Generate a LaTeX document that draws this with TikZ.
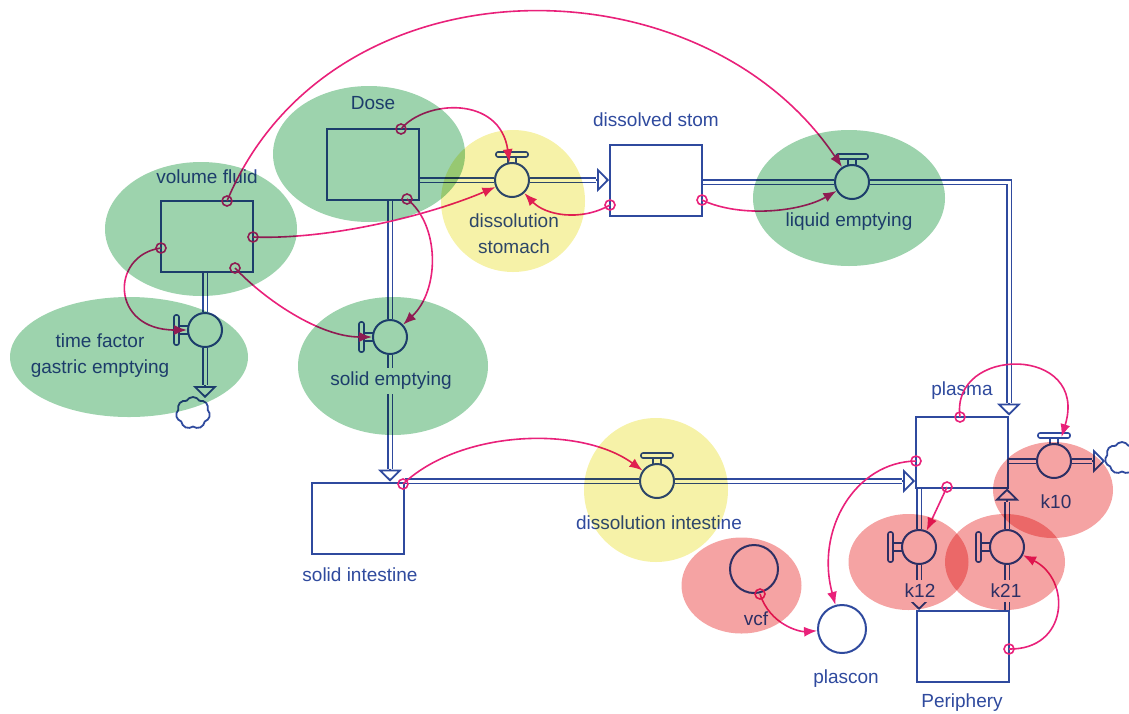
\documentclass[tikz,border=0pt]{standalone}
\usepackage{fontspec}
\setmainfont{Liberation Sans}
\usepackage{xcolor}
\usetikzlibrary{arrows.meta}
\usetikzlibrary{shapes.symbols}
\usetikzlibrary{calc}

\definecolor{sdblue}{RGB}{47,74,158}
\definecolor{linkpink}{RGB}{233,33,122}
\definecolor{grpgreen}{RGB}{157,211,173}
\definecolor{grpyellow}{RGB}{246,242,168}
\definecolor{grpred}{RGB}{245,163,163}

\begin{document}
\begin{tikzpicture}[x=1pt,y=-1pt]
\tikzset{>={Latex[width=10pt,length=13pt]}}
\tikzstyle{stock}=[rectangle,draw=sdblue,line width=2pt,minimum width=92pt,minimum height=71pt,inner sep=0pt]
\tikzstyle{valve}=[circle,draw=sdblue,line width=2pt,minimum size=34pt,inner sep=0pt]
\tikzstyle{aux}=[circle,draw=sdblue,line width=2pt,minimum size=48pt,inner sep=0pt]
\tikzstyle{pipe}=[draw=sdblue,line width=1.8pt,double=white,double distance=3pt]
\tikzstyle{flowhead}=[draw=sdblue,line width=1.8pt,-{Triangle[open,length=12pt,width=24pt]}]
\tikzstyle{sink}=[cloud,draw=sdblue,fill=white,line width=1.8pt,cloud puffs=7,cloud puff arc=120,aspect=1,minimum width=34pt,minimum height=32pt,inner sep=0pt]
\tikzstyle{tap}=[circle,draw=linkpink,line width=1.6pt,minimum size=10pt,inner sep=0pt]
\tikzstyle{infolink}=[->,draw=linkpink,line width=1.6pt]
\tikzstyle{lbl}=[fill=white,text=sdblue,inner xsep=2pt,inner ysep=4pt,align=center,font=\fontsize{19}{26}\selectfont]
\tikzset{
  handletop/.pic={
    \draw[sdblue,line width=1.6pt,rounded corners=2pt] (-16,-28) rectangle (16,-23);
    \draw[sdblue,line width=1.6pt] (-4,-23) -- (-4,-16.5) (4,-23) -- (4,-16.5);
  },
  handleleft/.pic={
    \draw[sdblue,line width=1.6pt,rounded corners=2pt] (-31,-15) rectangle (-26,15);
    \draw[sdblue,line width=1.6pt] (-26,-4) -- (-16.5,-4) (-26,4) -- (-16.5,4);
  }
}

\useasboundingbox (0,0) rectangle (1129,713);

% stocks
\node[stock] (volFluid) at (207,236.5) {};
\node[stock] (dose) at (372.5,164) {};
\node[stock] (dissStom) at (656,180.5) {};
\node[stock] (plasma) at (962,452) {};
\node[stock] (solidInt) at (358,518) {};
\node[stock] (periphery) at (963,646.5) {};

% flows
\node[valve] (vGastric) at (205,330) {};
\node[valve] (vSolidEmpt) at (390,337) {};
\node[valve] (vDissStom) at (512,180) {};
\node[valve] (vLiquid) at (852,182) {};
\node[valve] (vDissInt) at (657,481) {};
\node[valve] (vKten) at (1054,461) {};
\node[valve] (vKtwelve) at (919,547) {};
\node[valve] (vKtwoone) at (1007,547) {};
\pic at (vDissStom) {handletop};
\pic at (vLiquid) {handletop};
\pic at (vDissInt) {handletop};
\pic at (vKten) {handletop};
\pic at (vGastric) {handleleft};
\pic at (vSolidEmpt) {handleleft};
\pic at (vKtwelve) {handleleft};
\pic at (vKtwoone) {handleleft};

% auxiliaries
\node[aux] (vcf) at (754,569) {};
\node[aux] (plascon) at (842,629) {};

% clouds
\coordinate (sinkA) at (205,398);
\coordinate (sinkB) at (1105,461);
\node[sink] (cloudA) at (193,413) {};
\node[sink] (cloudB) at (1122,458) {};

% pipes
\draw[pipe] (vGastric |- volFluid.south) -- (vGastric.north);
\draw[pipe] (vGastric.south) -- ($(sinkA)+(0,-13)$);
\draw[flowhead] ($(sinkA)+(0,-13)$) -- (sinkA);

\coordinate (inSolid) at (vSolidEmpt |- solidInt.north);
\draw[pipe] (vSolidEmpt |- dose.south) -- (vSolidEmpt.north);
\draw[pipe] (vSolidEmpt.south) -- ($(inSolid)+(0,-13)$);
\draw[flowhead] ($(inSolid)+(0,-13)$) -- (inSolid);

\coordinate (inDiss) at (dissStom.west |- vDissStom);
\draw[pipe] (dose.east |- vDissStom) -- (vDissStom.west);
\draw[pipe] (vDissStom.east) -- ($(inDiss)+(-13,0)$);
\draw[flowhead] ($(inDiss)+(-13,0)$) -- (inDiss);

\coordinate (inPlasTop) at (plasma.north east);
\draw[pipe] (dissStom.east |- vLiquid) -- (vLiquid.west);
\draw[pipe] (vLiquid.east) -- (inPlasTop |- vLiquid) -- ($(inPlasTop)+(0,-13)$);
\draw[flowhead] ($(inPlasTop)+(0,-13)$) -- (inPlasTop);

\coordinate (inPlasLeft) at (plasma.west |- vDissInt);
\draw[pipe] (solidInt.east |- vDissInt) -- (vDissInt.west);
\draw[pipe] (vDissInt.east) -- ($(inPlasLeft)+(-13,0)$);
\draw[flowhead] ($(inPlasLeft)+(-13,0)$) -- (inPlasLeft);

\draw[pipe] (plasma.east |- vKten) -- (vKten.west);
\draw[pipe] (vKten.east) -- ($(sinkB)+(-13,0)$);
\draw[flowhead] ($(sinkB)+(-13,0)$) -- (sinkB);

\coordinate (inPeri) at (vKtwelve |- periphery.north);
\draw[pipe] (vKtwelve |- plasma.south) -- (vKtwelve.north);
\draw[pipe] (vKtwelve.south) -- ($(inPeri)+(0,-13)$);
\draw[flowhead] ($(inPeri)+(0,-13)$) -- (inPeri);

\coordinate (inPlasBot) at (vKtwoone |- plasma.south);
\draw[pipe] (vKtwoone |- periphery.north) -- (vKtwoone.south);
\draw[pipe] (vKtwoone.north) -- ($(inPlasBot)+(0,13)$);
\draw[flowhead] ($(inPlasBot)+(0,13)$) -- (inPlasBot);

% labels
\node[lbl] (lVolFluid) at (207,177) {volume fluid};
\node[lbl] (lDose) at (373,103) {Dose};
\node[lbl] (lDissStom) at (656,120) {dissolved stom};
\node[lbl] (lDissolution) at (514,234) {dissolution\\stomach};
\node[lbl] (lLiquid) at (849,222) {liquid emptying};
\node[lbl] (lGastric) at (100,356) {time factor\\gastric emptying};
\node[lbl] (lSolidEmpt) at (391,381) {solid emptying};
\node[lbl] (lPlasma) at (962,391) {plasma};
\node[lbl] (lSolidInt) at (360,575) {solid intestine};
\node[lbl] (lDissInt) at (659,523) {dissolution intestine};
\node[lbl] (lKten) at (1056,502) {k10};
\node[lbl] (lKtwelve) at (920,591) {k12};
\node[lbl] (lKtwoone) at (1006,591) {k21};
\node[lbl] (lVcf) at (756,619) {vcf};
\node[lbl] (lPlascon) at (846,679) {plascon};
\node[lbl] (lPeriphery) at (962,703) {Periphery};

% information links
\node[tap] (tDoseTop) at (401,129) {};
\node[tap] (tDoseBot) at (407,199) {};
\node[tap] (tVolTop) at (227,201) {};
\node[tap] (tVolRight) at (253,237) {};
\node[tap] (tVolLeft) at (161,248) {};
\node[tap] (tVolBot) at (235,268) {};
\node[tap] (tDissLeft) at (610,205) {};
\node[tap] (tDissRight) at (702,200) {};
\node[tap] (tSolid) at (403,484) {};
\node[tap] (tPlasTop) at (960,417) {};
\node[tap] (tPlasLeft) at (916,461) {};
\node[tap] (tPlasBot) at (947,487) {};
\node[tap] (tPeri) at (1009,649) {};
\node[tap] (tVcf) at (760,594) {};

\draw[infolink] (tDoseTop.center) .. controls (425,100) and (500,95) .. (vDissStom);
\draw[infolink] (tVolRight.center) .. controls (330,240) and (430,215) .. (vDissStom);
\draw[infolink] (tDissLeft.center) .. controls (580,222) and (545,215) .. (vDissStom);
\draw[infolink] (tVolTop.center) .. controls (330,-45) and (700,-45) .. (vLiquid);
\draw[infolink] (tDissRight.center) .. controls (740,218) and (800,212) .. (vLiquid);
\draw[infolink] (tDoseBot.center) .. controls (440,225) and (440,290) .. (vSolidEmpt);
\draw[infolink] (tVolBot.center) .. controls (265,300) and (320,337) .. (vSolidEmpt);
\draw[infolink] (tVolLeft.center) .. controls (110,255) and (110,330) .. (vGastric);
\draw[infolink] (tSolid.center) .. controls (460,430) and (580,425) .. (vDissInt);
\draw[infolink,shorten >=7pt] (tPlasTop.center) .. controls (950,345) and (1090,345) .. (vKten);
\draw[infolink] (tPlasLeft.center) .. controls (855,462) and (815,530) .. (plascon);
\draw[infolink] (tPlasBot.center) -- (vKtwelve);
\draw[infolink] (tPeri.center) .. controls (1068,650) and (1072,580) .. (vKtwoone);
\draw[infolink] (tVcf.center) .. controls (770,625) and (800,632) .. (plascon);

% groups
\begin{scope}[blend mode=multiply]
\fill[grpgreen] (201,229) ellipse [x radius=96pt,y radius=67pt];
\fill[grpgreen] (369,154) ellipse [x radius=96pt,y radius=68pt];
\fill[grpyellow] (513,201) ellipse [x radius=72pt,y radius=71pt];
\fill[grpgreen] (849,198) ellipse [x radius=96pt,y radius=68pt];
\fill[grpgreen] (129,357) ellipse [x radius=119pt,y radius=60pt];
\fill[grpgreen] (393,366) ellipse [x radius=95pt,y radius=69pt];
\fill[grpyellow] (656,490) circle [radius=72pt];
\fill[grpred] (741.5,585.5) ellipse [x radius=60pt,y radius=48pt];
\fill[grpred] (908.5,562) ellipse [x radius=60pt,y radius=48pt];
\fill[grpred] (1005,562) ellipse [x radius=60pt,y radius=48pt];
\fill[grpred] (1053,490) ellipse [x radius=60pt,y radius=48pt];
\end{scope}
\end{tikzpicture}
\end{document}
